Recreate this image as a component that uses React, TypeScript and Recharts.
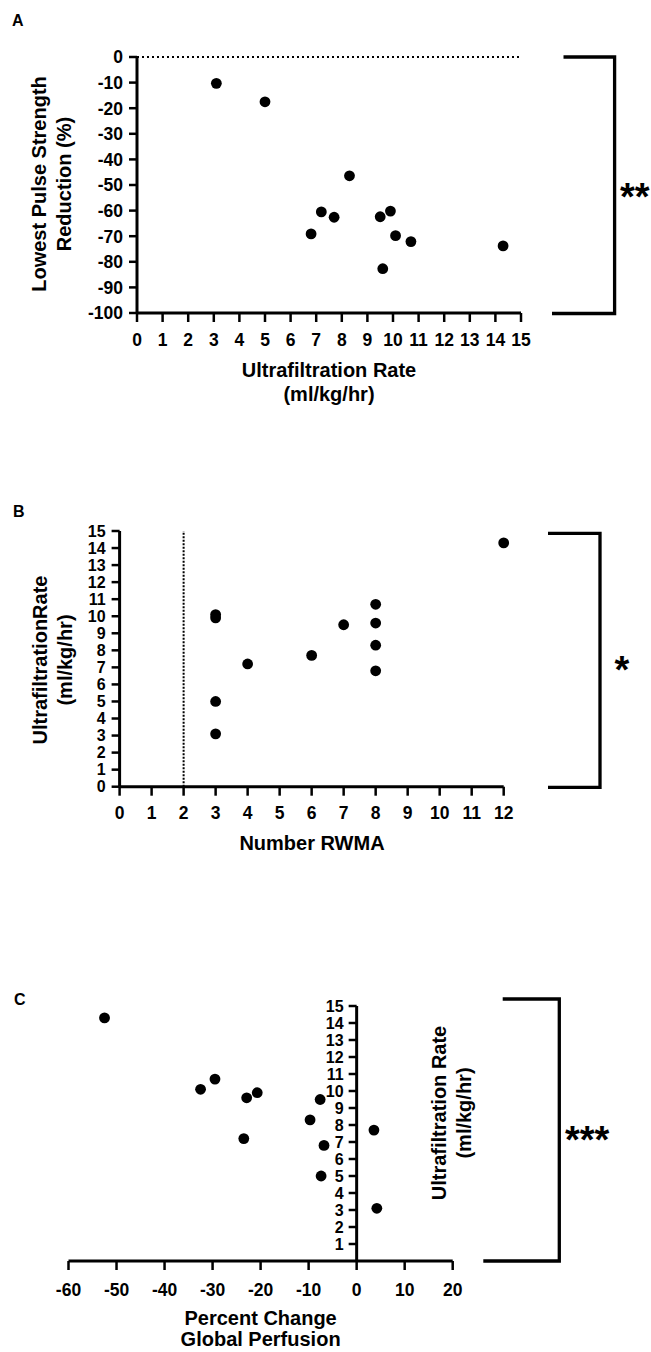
import { ReferenceLine, Scatter, ScatterChart, XAxis, YAxis } from "recharts";

// Panel A: ultrafiltration rate vs lowest pulse strength reduction
const ufRateA = [3.1, 5.0, 6.8, 7.2, 7.7, 8.3, 9.5, 9.6, 9.9, 10.1, 10.7, 14.3];
const pulseReduction = [-10.3, -17.5, -69.1, -60.5, -62.6, -46.4, -62.4, -82.7, -60.2, -69.8, -72.1, -73.8];
const ticksA_x = [0, 1, 2, 3, 4, 5, 6, 7, 8, 9, 10, 11, 12, 13, 14, 15];
const ticksA_y = [0, -10, -20, -30, -40, -50, -60, -70, -80, -90, -100];

// Panel B: number of RWMA vs ultrafiltration rate
const rwmaCount = [3, 3, 3, 3, 4, 6, 7, 8, 8, 8, 8, 12];
const ufRateB = [3.1, 5.0, 9.9, 10.1, 7.2, 7.7, 9.5, 6.8, 8.3, 9.6, 10.7, 14.3];
const ticksB_x = [0, 1, 2, 3, 4, 5, 6, 7, 8, 9, 10, 11, 12];
const ticksB_y = [0, 1, 2, 3, 4, 5, 6, 7, 8, 9, 10, 11, 12, 13, 14, 15];

// Panel C: percent change global perfusion vs ultrafiltration rate
const perfusionChange = [-52.5, -29.5, -32.5, -22.9, -20.7, -7.6, -9.7, 3.6, -23.5, -6.8, -7.4, 4.2];
const ufRateC = [14.3, 10.7, 10.1, 9.6, 9.9, 9.5, 8.3, 7.7, 7.2, 6.8, 5.0, 3.1];
const ticksC_x = [-60, -50, -40, -30, -20, -10, 0, 10, 20];
const ticksC_y = [1, 2, 3, 4, 5, 6, 7, 8, 9, 10, 11, 12, 13, 14, 15];

const dataA = ufRateA.map((x, i) => ({ x, y: pulseReduction[i] }));
const dataB = rwmaCount.map((x, i) => ({ x, y: ufRateB[i] }));
const dataC = perfusionChange.map((x, i) => ({ x, y: ufRateC[i] }));

const FONT = "'Liberation Sans', Arial, Helvetica, sans-serif";
const axisLine = { stroke: "#000", strokeWidth: 3 };
const tickLine = { stroke: "#000", strokeWidth: 2.5 };

const Dot = (props: any) => <circle cx={props.cx} cy={props.cy} r={5.4} fill="#000" />;

const XTick = (props: any) => (
  <text
    x={props.x}
    y={props.y}
    dy="0.72em"
    textAnchor="middle"
    fontSize={17.5}
    fontWeight={700}
    fontFamily={FONT}
    fill="#000"
  >
    {props.payload.value}
  </text>
);

const YTick = (props: any) => (
  <text
    x={props.x}
    y={props.y}
    dy="0.36em"
    textAnchor="end"
    fontSize={props.small ? 16 : 17.5}
    fontWeight={700}
    fontFamily={FONT}
    fill="#000"
  >
    {props.payload.value}
  </text>
);

// panel C has its y axis crossing at x = 0
const C_LEFT = 68.5;
const C_WIDTH = 384.2;
const C_ZERO = C_LEFT + (C_WIDTH * 60) / 80;

const CrossTick = (props: any) => {
  const { y, payload } = props;
  return (
    <g>
      <line x1={C_ZERO - 8} x2={C_ZERO} y1={y} y2={y} stroke="#000" strokeWidth={2.5} />
      <text
        x={C_ZERO - 13}
        y={y}
        dy="0.36em"
        textAnchor="end"
        fontSize={16}
        fontWeight={700}
        fontFamily={FONT}
        fill="#000"
      >
        {payload.value}
      </text>
    </g>
  );
};

const labelStyle = { fontSize: 20, fontWeight: 700, fontFamily: FONT, fill: "#000" };

const App = () => {
  return (
    <div style={{ position: "absolute", left: 0, top: 0, width: 651, height: 1352, background: "#fff" }}>
      <div style={{ position: "absolute", left: 0, top: 0 }}>
        <ScatterChart width={651} height={420} margin={{ top: 57, right: 130, bottom: 77, left: 77 }}>
          <XAxis
            type="number"
            dataKey="x"
            domain={[0, 15]}
            ticks={ticksA_x}
            interval={0}
            height={30}
            tick={(p: any) => <XTick {...p} />}
            axisLine={axisLine}
            tickLine={tickLine}
            tickSize={9}
            tickMargin={11}
          />
          <YAxis
            type="number"
            dataKey="y"
            domain={[-100, 0]}
            ticks={ticksA_y}
            interval={0}
            width={60}
            tick={(p: any) => <YTick {...p} />}
            axisLine={axisLine}
            tickLine={tickLine}
            tickSize={8}
            tickMargin={6}
          />
          <ReferenceLine y={0} stroke="#000" strokeWidth={2} strokeDasharray="2 3" />
          <Scatter data={dataA} shape={Dot} isAnimationActive={false} />
        </ScatterChart>
      </div>

      <div style={{ position: "absolute", left: 0, top: 480 }}>
        <ScatterChart width={651} height={400} margin={{ top: 51, right: 147.3, bottom: 63.3, left: 59.6 }}>
          <XAxis
            type="number"
            dataKey="x"
            domain={[0, 12]}
            ticks={ticksB_x}
            interval={0}
            height={30}
            tick={(p: any) => <XTick {...p} />}
            axisLine={axisLine}
            tickLine={tickLine}
            tickSize={9}
            tickMargin={11}
          />
          <YAxis
            type="number"
            dataKey="y"
            domain={[0, 15]}
            ticks={ticksB_y}
            interval={0}
            width={60}
            tick={(p: any) => <YTick {...p} small />}
            axisLine={axisLine}
            tickLine={tickLine}
            tickSize={8}
            tickMargin={6}
          />
          <ReferenceLine x={2} stroke="#000" strokeWidth={2} strokeDasharray="2 1.5" />
          <Scatter data={dataB} shape={Dot} isAnimationActive={false} />
        </ScatterChart>
      </div>

      <div style={{ position: "absolute", left: 0, top: 960 }}>
        <ScatterChart width={651} height={392} margin={{ top: 46, right: 198.3, bottom: 61, left: C_LEFT - 1 }}>
          <XAxis
            type="number"
            dataKey="x"
            domain={[-60, 20]}
            ticks={ticksC_x}
            interval={0}
            height={30}
            tick={(p: any) => <XTick {...p} />}
            axisLine={axisLine}
            tickLine={tickLine}
            tickSize={9}
            tickMargin={13}
          />
          <YAxis
            type="number"
            dataKey="y"
            domain={[0, 15]}
            ticks={ticksC_y}
            interval={0}
            width={1}
            tick={(p: any) => <CrossTick {...p} />}
            axisLine={false}
            tickLine={false}
          />
          <ReferenceLine x={0} stroke="#000" strokeWidth={3} />
          <Scatter data={dataC} shape={Dot} isAnimationActive={false} />
        </ScatterChart>
      </div>

      <svg
        width={651}
        height={1352}
        style={{ position: "absolute", left: 0, top: 0, pointerEvents: "none" }}
      >
        {/* panel letters */}
        <text x={12} y={26} fontSize={16} fontWeight={700} fontFamily={FONT}>A</text>
        <text x={13} y={517} fontSize={16} fontWeight={700} fontFamily={FONT}>B</text>
        <text x={14} y={1005} fontSize={16} fontWeight={700} fontFamily={FONT}>C</text>

        {/* A labels */}
        <text transform="translate(46,184) rotate(-90)" textAnchor="middle" {...labelStyle}>Lowest Pulse Strength</text>
        <text transform="translate(71,184) rotate(-90)" textAnchor="middle" {...labelStyle}>Reduction (%)</text>
        <text x={329} y={376.5} textAnchor="middle" {...labelStyle}>Ultrafiltration Rate</text>
        <text x={329} y={400.5} textAnchor="middle" {...labelStyle}>(ml/kg/hr)</text>

        {/* B labels */}
        <text transform="translate(47,660) rotate(-90)" textAnchor="middle" {...labelStyle}>UltrafiltrationRate</text>
        <text transform="translate(72,660) rotate(-90)" textAnchor="middle" {...labelStyle}>(ml/kg/hr)</text>
        <text x={312} y={850} textAnchor="middle" {...labelStyle}>Number RWMA</text>

        {/* C labels */}
        <text transform="translate(446,1113) rotate(-90)" textAnchor="middle" {...labelStyle}>Ultrafiltration Rate</text>
        <text transform="translate(471,1113) rotate(-90)" textAnchor="middle" {...labelStyle}>(ml/kg/hr)</text>
        <text x={260.6} y={1325} textAnchor="middle" {...labelStyle}>Percent Change</text>
        <text x={260.6} y={1346} textAnchor="middle" {...labelStyle}>Global Perfusion</text>

        {/* significance brackets */}
        <path d="M563.5,57 H614.6 V313.5 H552" fill="none" stroke="#000" strokeWidth={3.3} />
        <text x={620} y={210} fontSize={38} fontWeight={700} fontFamily={FONT}>**</text>
        <path d="M548,533.3 H600 V787.3 H548" fill="none" stroke="#000" strokeWidth={3.3} />
        <text x={614.6} y={683} fontSize={38} fontWeight={700} fontFamily={FONT}>*</text>
        <path d="M502.7,999 H559.3 V1261 H483.3" fill="none" stroke="#000" strokeWidth={3.3} />
        <text x={565} y={1153} fontSize={38} fontWeight={700} fontFamily={FONT}>***</text>
      </svg>
    </div>
  );
};

export default App;
